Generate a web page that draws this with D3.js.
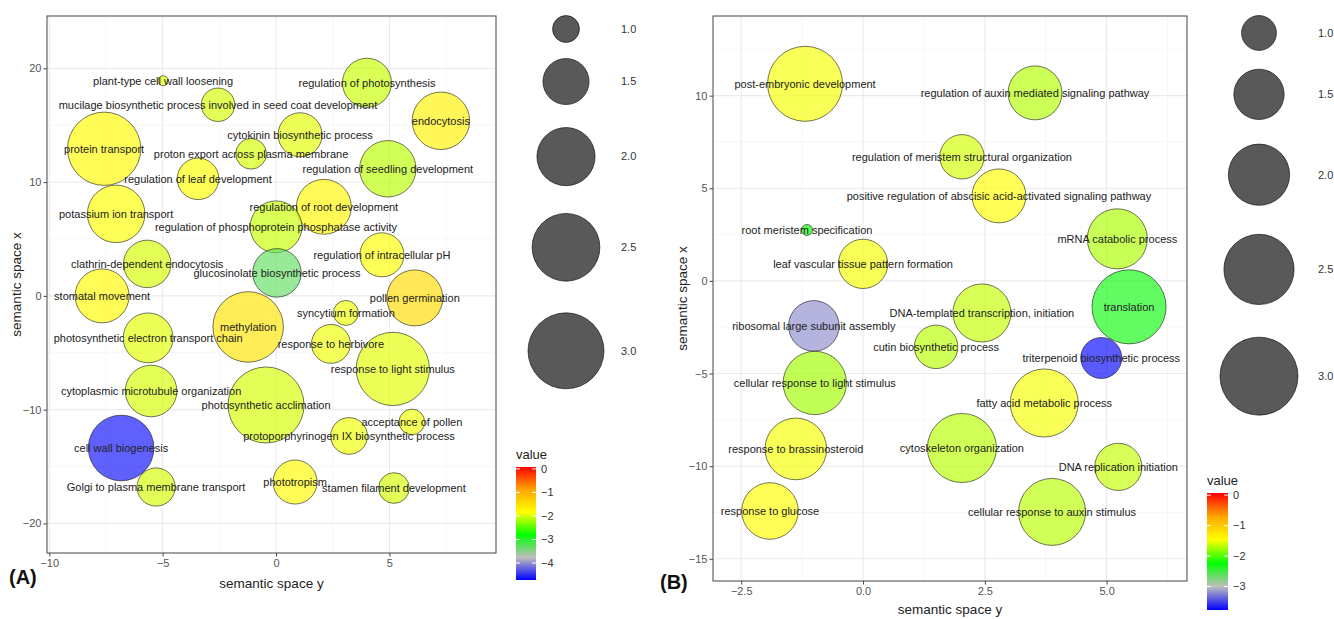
<!DOCTYPE html>
<html><head><meta charset="utf-8">
<script src="https://cdn.jsdelivr.net/npm/d3@7"></script>
<style>body{margin:0;background:#fff;} svg{display:block;font-family:"Liberation Sans",Arial,sans-serif;}</style>
</head><body><svg id="c" width="1334" height="619"></svg>
<script>
// ---------- Panel A data ----------
const termsA = ["plant-type cell wall loosening","mucilage biosynthetic process involved in seed coat development","protein transport","regulation of photosynthesis","endocytosis","cytokinin biosynthetic process","proton export across plasma membrane","regulation of leaf development","regulation of seedling development","regulation of root development","potassium ion transport","regulation of phosphoprotein phosphatase activity","clathrin-dependent endocytosis","glucosinolate biosynthetic process","regulation of intracellular pH","pollen germination","stomatal movement","methylation","syncytium formation","response to herbivore","response to light stimulus","photosynthetic electron transport chain","cytoplasmic microtubule organization","photosynthetic acclimation","cell wall biogenesis","acceptance of pollen","protoporphyrinogen IX biosynthetic process","Golgi to plasma membrane transport","phototropism","stamen filament development"];
const semYA = [-4.98,-2.56,-7.58,4.01,7.27,1.06,-1.10,-3.44,4.93,2.11,-7.05,0.00,-5.68,0.04,4.67,6.12,-7.67,-1.23,3.08,2.42,5.15,-5.64,-5.51,-0.44,-6.83,5.99,3.22,-5.29,0.84,5.20];
const semXA = [18.91,16.80,12.93,18.73,15.39,14.16,12.49,10.29,11.17,7.83,7.21,6.07,2.81,2.02,3.61,-0.18,0.00,-2.73,-1.50,-4.22,-6.42,-3.69,-8.36,-9.59,-13.37,-11.08,-12.31,-16.80,-16.36,-16.89];
const sizeA = [0.86,1.13,2.83,1.61,1.97,1.43,1.07,1.35,1.92,1.85,1.97,1.72,1.55,1.59,1.43,1.90,1.81,2.66,0.97,1.27,2.83,1.64,1.71,3.00,2.38,0.98,1.21,1.25,1.43,1.07];
const valueA = [-1.9,-2.0,-1.8,-2.05,-1.7,-1.95,-2.0,-1.85,-2.1,-1.75,-1.85,-2.05,-2.0,-3.3,-1.85,-1.45,-1.8,-1.55,-1.9,-1.9,-1.95,-1.95,-2.0,-2.0,-4.65,-1.9,-1.9,-2.0,-1.8,-2.0];
const xTicksA = [-10,-5,0,5];
const yTicksA = [-20,-10,0,10,20];
const colorTicksA = [0,-1,-2,-3,-4];

// ---------- Panel B data ----------
const termsB = ["post-embryonic development","regulation of auxin mediated signaling pathway","regulation of meristem structural organization","positive regulation of abscisic acid-activated signaling pathway","root meristem specification","mRNA catabolic process","leaf vascular tissue pattern formation","translation","DNA-templated transcription, initiation","ribosomal large subunit assembly","cutin biosynthetic process","triterpenoid biosynthetic process","cellular response to light stimulus","fatty acid metabolic process","response to brassinosteroid","cytoskeleton organization","DNA replication initiation","response to glucose","cellular response to auxin stimulus"];
const semYB = [-1.19,3.53,2.03,2.79,-1.15,5.22,0.00,5.46,2.44,-1.01,1.50,4.89,-0.99,3.72,-1.38,2.03,5.24,-1.91,3.88];
const semXB = [10.64,10.15,6.70,4.59,2.75,2.27,0.92,-1.40,-1.73,-2.43,-3.56,-4.16,-5.51,-6.59,-9.07,-9.02,-10.04,-12.42,-12.47];
const sizeB = [2.80,1.65,1.28,1.65,0.71,1.94,1.46,2.74,1.84,1.51,1.25,1.17,2.11,2.37,2.02,2.43,1.38,1.77,2.31];
const valueB = [-1.5,-1.7,-1.6,-1.45,-2.2,-1.72,-1.5,-2.3,-1.65,-3.2,-1.68,-3.75,-1.75,-1.5,-1.5,-1.68,-1.65,-1.45,-1.68];
const xTicksB = [-2.5,0,2.5,5];
const yTicksB = [-15,-10,-5,0,5,10];
const colorTicksB = [0,-1,-2,-3];

// shared
const sizeBreaks = [1.0,1.5,2.0,2.5,3.0];
const sizeMax = 3.0;
const gradientColors = ["#0000FF","#BEBEBE","#00FF00","#FFFF00","#FFA500","#FF0000"];

const svg = d3.select("#c");
svg.append("rect").attr("width",1334).attr("height",619).attr("fill","#fff");

function drawPanel(cfg){
  const g = svg.append("g");
  const x = d3.scaleLinear().domain(cfg.xDom).range([cfg.left, cfg.right]);
  const y = d3.scaleLinear().domain(cfg.yDom).range([cfg.bottom, cfg.top]);
  const vMin = d3.min(cfg.size);
  const rLin = d3.scaleLinear().domain([0, Math.sqrt(sizeMax - vMin)]).range(cfg.rRange);
  const r = v => rLin(Math.sqrt(Math.max(0, v - vMin)));
  const cStops = d3.range(gradientColors.length).map(i => cfg.cDom[0] + i*(cfg.cDom[1]-cfg.cDom[0])/(gradientColors.length-1));
  const col = d3.scaleLinear().domain(cStops).range(gradientColors).interpolate(d3.interpolateRgb).clamp(true);

  // minor grid
  const minor = (ticks, dom) => {
    const st = ticks[1]-ticks[0];
    const ext = [ticks[0]-st, ...ticks, ticks[ticks.length-1]+st];
    const out = [];
    for (let i=0;i<ext.length-1;i++){ const m=(ext[i]+ext[i+1])/2; if(m>dom[0]&&m<dom[1]) out.push(m); }
    return out;
  };
  minor(cfg.xTicks,cfg.xDom).forEach(t=>g.append("line").attr("x1",x(t)).attr("x2",x(t)).attr("y1",cfg.top).attr("y2",cfg.bottom).attr("stroke","#f4f4f4").attr("stroke-width",0.7));
  minor(cfg.yTicks,cfg.yDom).forEach(t=>g.append("line").attr("y1",y(t)).attr("y2",y(t)).attr("x1",cfg.left).attr("x2",cfg.right).attr("stroke","#f4f4f4").attr("stroke-width",0.7));
  cfg.xTicks.forEach(t=>g.append("line").attr("x1",x(t)).attr("x2",x(t)).attr("y1",cfg.top).attr("y2",cfg.bottom).attr("stroke","#ebebeb").attr("stroke-width",1.1));
  cfg.yTicks.forEach(t=>g.append("line").attr("y1",y(t)).attr("y2",y(t)).attr("x1",cfg.left).attr("x2",cfg.right).attr("stroke","#ebebeb").attr("stroke-width",1.1));

  // bubbles
  const idx = d3.range(cfg.terms.length);
  g.selectAll("circle.b").data(idx).join("circle").attr("class","b")
    .attr("cx",i=>x(cfg.sx[i])).attr("cy",i=>y(cfg.sy[i])).attr("r",i=>r(cfg.size[i]))
    .attr("fill",i=>col(cfg.value[i])).attr("fill-opacity",0.66)
    .attr("stroke","#000").attr("stroke-opacity",0.6).attr("stroke-width",0.9);
  g.selectAll("text.l").data(idx).join("text").attr("class","l")
    .attr("x",i=>x(cfg.sx[i])).attr("y",i=>y(cfg.sy[i])).attr("text-anchor","middle").attr("dy","0.35em")
    .attr("font-size",11).attr("fill","#222").text(i=>cfg.terms[i]);

  // border
  g.append("rect").attr("x",cfg.left).attr("y",cfg.top).attr("width",cfg.right-cfg.left).attr("height",cfg.bottom-cfg.top)
    .attr("fill","none").attr("stroke","#555").attr("stroke-width",1.1);

  // axes
  const xa = g.append("g").attr("transform",`translate(0,${cfg.bottom})`)
    .call(d3.axisBottom(x).tickValues(cfg.xTicks).tickFormat(cfg.xFmt).tickSize(3.5).tickPadding(3));
  const ya = g.append("g").attr("transform",`translate(${cfg.left},0)`)
    .call(d3.axisLeft(y).tickValues(cfg.yTicks).tickFormat(d3.format("d")).tickSize(3.5).tickPadding(2));
  [xa,ya].forEach(a=>{ a.select(".domain").remove(); a.selectAll("line").attr("stroke","#444");
    a.selectAll("text").attr("fill","#555").attr("font-size",11).attr("font-family","Liberation Sans, Arial, sans-serif"); });

  g.append("text").attr("x",(cfg.left+cfg.right)/2).attr("y",cfg.xTitleY).attr("text-anchor","middle").attr("dy","0.35em")
    .attr("font-size",13.5).attr("fill","#222").text("semantic space y");
  g.append("text").attr("transform",`translate(${cfg.yTitleX},${(cfg.top+cfg.bottom)/2}) rotate(-90)`).attr("text-anchor","middle").attr("dy","0.35em")
    .attr("font-size",13.5).attr("fill","#222").text("semantic space x");
  g.append("text").attr("x",cfg.tagX).attr("y",cfg.tagY).attr("dy","0.35em").attr("font-size",20).attr("font-weight","bold").attr("fill","#111").text(cfg.tag);

  // size legend
  let cy = cfg.legY0;
  sizeBreaks.forEach((b,i)=>{
    if (i>0) cy += 1.44*(r(sizeBreaks[i-1]) + r(b));
    g.append("circle").attr("cx",cfg.legX).attr("cy",cy).attr("r",r(b)).attr("fill","#000").attr("fill-opacity",0.65)
      .attr("stroke","#000").attr("stroke-opacity",0.65).attr("stroke-width",0.9);
    g.append("text").attr("x",cfg.legLabX).attr("y",cy).attr("dy","0.35em").attr("font-size",11).attr("fill","#333").text(d3.format(".1f")(b));
  });

  // color bar
  const cb = cfg.cbar;
  const cy2 = d3.scaleLinear().domain(cfg.cDom).range([cb.y1, cb.y0]);
  const gid = "grad"+cfg.tag.replace(/\W/g,"");
  const grad = svg.append("defs").append("linearGradient").attr("id",gid).attr("x1",0).attr("x2",0).attr("y1",1).attr("y2",0);
  d3.range(0,1.0001,0.05).forEach(t=>{
    grad.append("stop").attr("offset",t).attr("stop-color",col(cfg.cDom[0]+t*(cfg.cDom[1]-cfg.cDom[0])));
  });
  g.append("rect").attr("x",cb.x).attr("y",cb.y0).attr("width",cb.w).attr("height",cb.y1-cb.y0).attr("fill",`url(#${gid})`);
  cfg.cTicks.forEach(t=>{
    const yy = cy2(t);
    g.append("line").attr("x1",cb.x).attr("x2",cb.x+4).attr("y1",yy).attr("y2",yy).attr("stroke","#fff").attr("stroke-width",1);
    g.append("line").attr("x1",cb.x+cb.w-4).attr("x2",cb.x+cb.w).attr("y1",yy).attr("y2",yy).attr("stroke","#fff").attr("stroke-width",1);
    g.append("text").attr("x",cb.x+cb.w+5).attr("y",yy).attr("dy","0.35em").attr("font-size",11).attr("fill","#333").text(d3.format("d")(t));
  });
  g.append("text").attr("x",cb.x).attr("y",cb.y0-8).attr("font-size",13).attr("fill","#222").text("value");
}

drawPanel({terms:termsA, sx:semYA, sy:semXA, size:sizeA, value:valueA,
  left:47,right:496,top:16,bottom:553, xDom:[-10.1,9.7], yDom:[-22.6,24.6],
  xTicks:xTicksA, yTicks:yTicksA, xFmt:d3.format("d"), rRange:[5,38], cDom:[-4.72,0.08], cTicks:colorTicksA,
  xTitleY:583, yTitleX:16, tag:"(A)", tagX:9, tagY:577,
  legX:566, legY0:29, legLabX:621, cbar:{x:516,y0:467,y1:580,w:20}});

drawPanel({terms:termsB, sx:semYB, sy:semXB, size:sizeB, value:valueB,
  left:713,right:1187,top:16,bottom:581, xDom:[-3.08,6.65], yDom:[-16.2,14.3],
  xTicks:xTicksB, yTicks:yTicksB, xFmt:d3.format(".1f"), rRange:[5.5,39], cDom:[-3.77,0.07], cTicks:colorTicksB,
  xTitleY:609, yTitleX:682, tag:"(B)", tagX:660, tagY:582,
  legX:1259, legY0:33, legLabX:1318, cbar:{x:1207,y0:493,y1:610,w:21}});
</script></body></html>
